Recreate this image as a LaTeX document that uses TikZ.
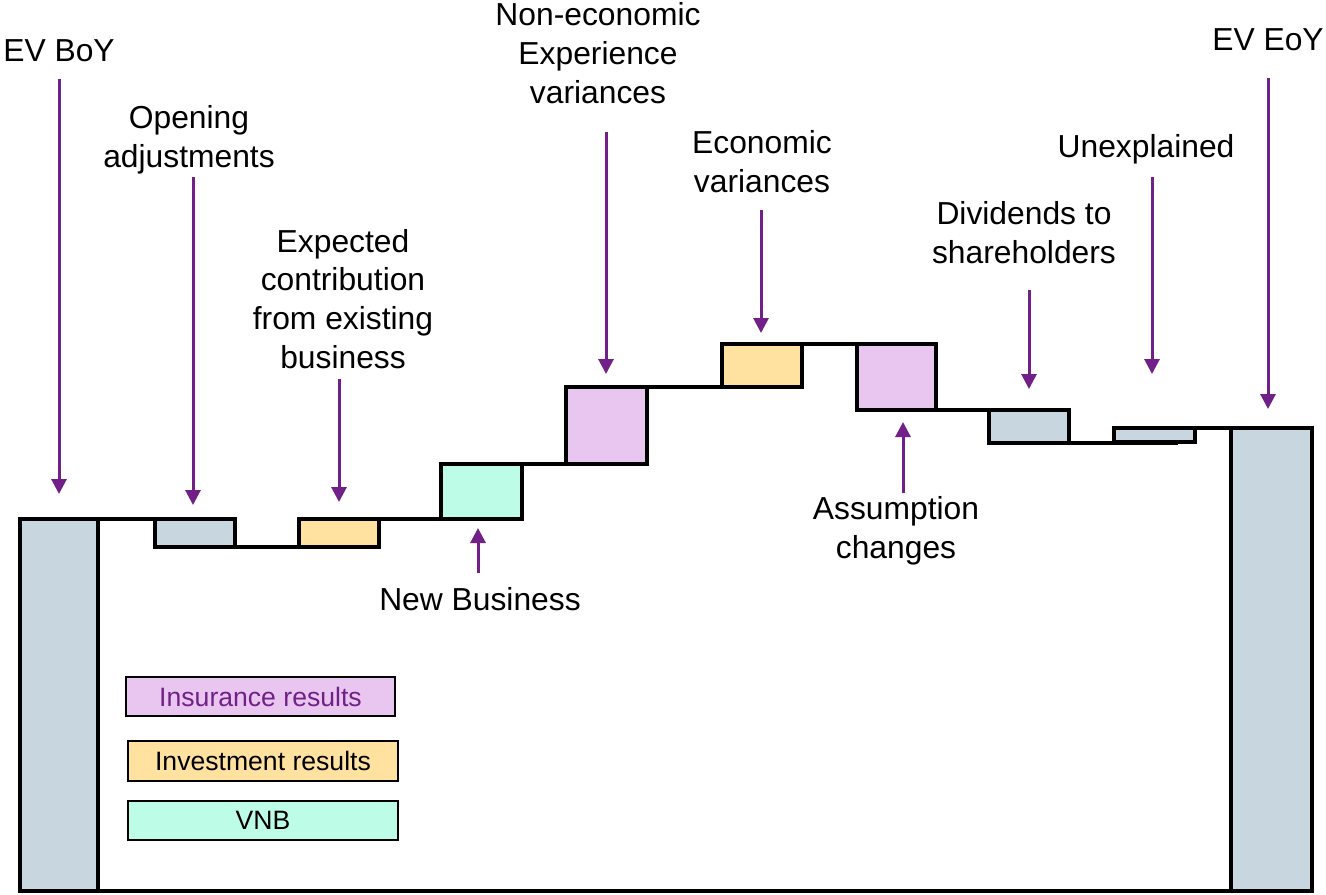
\documentclass[tikz,border=0pt]{standalone}
\usepackage{fontspec}
\setmainfont{Liberation Sans}
\usetikzlibrary{arrows.meta,fit}
\definecolor{barGrey}{RGB}{200,214,223}
\definecolor{barYellow}{RGB}{255,226,160}
\definecolor{barPink}{RGB}{233,198,240}
\definecolor{barGreen}{RGB}{189,253,232}
\definecolor{arrPurple}{RGB}{112,32,135}
\tikzset{
  bar/.style={draw=black, line width=1.6pt, inner sep=0pt, outer sep=0pt},
  legbox/.style={draw=black, line width=1.1pt, inner sep=0pt, outer sep=0pt},
  legtxt/.style={font=\fontsize{13.3}{15}\selectfont, inner sep=0pt},
  lvl/.style={draw=black, line width=1.8pt},
  arr/.style={draw=arrPurple, line width=1.5pt, -{Triangle[length=7.5pt,width=7.5pt]}},
  lbl/.style={align=center, inner sep=0pt, font=\fontsize{15.9}{19.3}\selectfont, anchor=base},
}
\begin{document}
\begin{tikzpicture}[x=0.5pt,y=-0.5pt]
\useasboundingbox[fill=white] (0,0) rectangle (1326,894);
% bars
\node[bar, fill=barGrey,   fit={(20,519)(98,891)}]    (boy) {};
\node[bar, fill=barGrey,   fit={(155,519)(235,547)}]  (oa)  {};
\node[bar, fill=barYellow, fit={(299,519)(379,547)}]  (ecb) {};
\node[bar, fill=barGreen,  fit={(441,464)(522,519)}]  (nb)  {};
\node[bar, fill=barPink,   fit={(566,387)(647,464)}]  (nex) {};
\node[bar, fill=barYellow, fit={(722,344)(802,387)}]  (ev)  {};
\node[bar, fill=barPink,   fit={(857,344)(936,410)}]  (ac)  {};
\node[bar, fill=barGrey,   fit={(989,410)(1069,443)}] (dv)  {};
\node[bar, fill=barGrey,   fit={(1114,428)(1195,442)}] (un) {};
\node[bar, fill=barGrey,   fit={(1231,428)(1312,891)}] (eoy) {};
% level lines
\draw[lvl] (boy.north east) -- (oa.north west);
\draw[lvl] (oa.south east) -- ([xshift=-15.5pt]ecb.south east);
\draw[lvl] (ecb.north east) -- (nb.south west);
\draw[lvl] (nb.north east) -- (nex.south west);
\draw[lvl] (nex.north east) -- (ev.south west);
\draw[lvl] (ev.north east) -- (ac.north west);
\draw[lvl] (ac.south east) -- (dv.north west);
\draw[lvl] (dv.south east) -- ([xshift=-8.5pt,yshift=-0.5pt]un.south east);
\draw[lvl] (un.north east) -- (eoy.north west);
\draw[lvl] (boy.south west) -- (eoy.south east);
% labels (anchor = baseline of last line)
\node[lbl] (lboy) at (59,61) {EV BoY};
\node[lbl] (loa)  at (189,167) {Opening\\adjustments};
\node[lbl] (lecb) at (343,368) {Expected\\contribution\\from existing\\business};
\node[lbl] (lnex) at (598,103) {Non-economic\\Experience\\variances};
\node[lbl] (lev)  at (762,192) {Economic\\variances};
\node[lbl] (ldv)  at (1024,263) {Dividends to\\shareholders};
\node[lbl] (lun)  at (1146,157) {Unexplained};
\node[lbl] (leoy) at (1268,50) {EV EoY};
\node[lbl] (lnb)  at (480,610) {New Business};
\node[lbl] (lac)  at (896,558) {Assumption\\changes};
% arrow ends
\coordinate (t1) at (59,79);   \coordinate (h1) at (59,494);
\coordinate (t2) at (193,177); \coordinate (h2) at (193,505);
\coordinate (t3) at (339,379); \coordinate (h3) at (339,502);
\coordinate (t4) at (606,132); \coordinate (h4) at (606,374);
\coordinate (t5) at (761,210); \coordinate (h5) at (761,333);
\coordinate (t6) at (1029,290); \coordinate (h6) at (1029,389);
\coordinate (t7) at (1152,177); \coordinate (h7) at (1152,374);
\coordinate (t8) at (1268,78); \coordinate (h8) at (1268,409);
\coordinate (t9) at (478,573); \coordinate (h9) at (478,528);
\coordinate (t10) at (903,493); \coordinate (h10) at (903,422);
\foreach \i in {1,...,10} {\draw[arr] (t\i) -- (h\i);}
% legend
\node[legbox, fill=barPink, fit={(126,677)(395,716)}] (gins) {};
\node[legtxt, text=arrPurple] (tins) at (gins.center) {Insurance results};
\node[legbox, fill=barYellow, fit={(128,741)(398,781)}] (ginv) {};
\node[legtxt] (tinv) at (ginv.center) {Investment results};
\node[legbox, fill=barGreen, fit={(128,801)(398,840)}] (gvnb) {};
\node[legtxt] (tvnb) at (gvnb.center) {VNB};
\end{tikzpicture}
\end{document}
